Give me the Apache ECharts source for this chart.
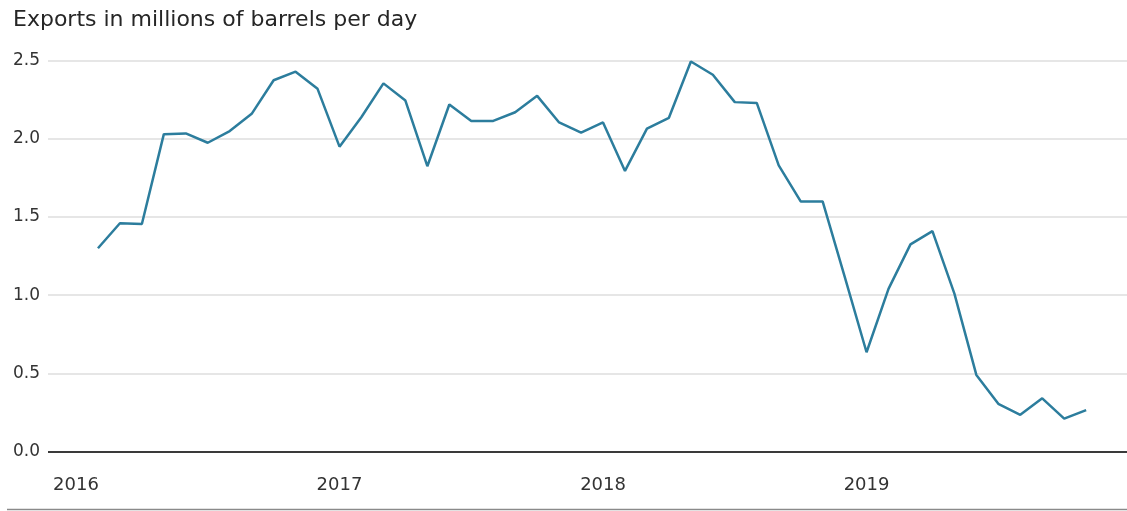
<!DOCTYPE html>
<html>
<head>
<meta charset="utf-8">
<script src="https://cdn.jsdelivr.net/npm/echarts@6/dist/echarts.min.js"></script>
<style>
  html, body { margin: 0; padding: 0; background: #fff; }
  #chart { width: 1127px; height: 511px; }
</style>
</head>
<body>
<div id="chart"></div>
<script>
const title = "Exports in millions of barrels per day";
const yearLabels = ["2016", "2017", "2018", "2019"];
const months = [
  "2016-02", "2016-03", "2016-04", "2016-05", "2016-06", "2016-07", "2016-08", "2016-09", "2016-10", "2016-11", "2016-12",
  "2017-01", "2017-02", "2017-03", "2017-04", "2017-05", "2017-06", "2017-07", "2017-08", "2017-09", "2017-10", "2017-11", "2017-12",
  "2018-01", "2018-02", "2018-03", "2018-04", "2018-05", "2018-06", "2018-07", "2018-08", "2018-09", "2018-10", "2018-11", "2018-12",
  "2019-01", "2019-02", "2019-03", "2019-04", "2019-05", "2019-06", "2019-07", "2019-08", "2019-09", "2019-10", "2019-11"
];
const exports = [
  1.30, 1.46, 1.455, 2.03, 2.035, 1.975, 2.05, 2.16, 2.375, 2.43, 2.32,
  1.95, 2.14, 2.355, 2.245, 1.825, 2.22, 2.115, 2.115, 2.17, 2.275, 2.105, 2.04,
  2.105, 1.795, 2.065, 2.135, 2.495, 2.41, 2.235, 2.23, 1.83, 1.60, 1.60, 1.12,
  0.635, 1.04, 1.325, 1.41, 1.01, 0.49, 0.305, 0.235, 0.34, 0.21, 0.265
];

// month index counted from Jan 2016
const monthIndex = (m) => {
  const [y, mo] = m.split("-").map(Number);
  return (y - 2016) * 12 + (mo - 1);
};
const points = months.map((m, i) => [monthIndex(m), exports[i]]);
const yearTicks = yearLabels.map((y) => monthIndex(`${y}-01`));

const chart = echarts.init(document.getElementById("chart"), null, { renderer: "canvas" });

chart.setOption({
  animation: false,
  backgroundColor: "#ffffff",
  textStyle: { fontFamily: "DejaVu Sans" },
  title: {
    text: title,
    left: 8,
    top: 4,
    textStyle: { color: "#262626", fontSize: 22, fontWeight: "normal", fontFamily: "DejaVu Sans" },
  },
  grid: { left: 48, right: 0, top: 60.7, bottom: 59.5 },
  xAxis: {
    type: "value",
    min: -1.275,
    max: 47.86,
    axisLine: { show: false },
    axisTick: { show: false },
    splitLine: { show: false },
    axisLabel: {
      customValues: yearTicks,
      color: "#333",
      fontSize: 18,
      margin: 25,
      formatter: (v) => String(2016 + Math.round(v / 12)),
    },
  },
  yAxis: {
    type: "value",
    min: 0,
    max: 2.5,
    interval: 0.5,
    axisLine: { show: false },
    axisTick: { show: false },
    axisLabel: {
      color: "#333",
      fontSize: 17,
      align: "left",
      margin: 35,
      formatter: (v) => v.toFixed(1),
    },
    splitLine: { lineStyle: { width: 1.5, color: "#dedede" } },
  },
  series: [
    {
      type: "line",
      data: points,
      symbol: "none",
      lineStyle: { width: 2.5, color: "#2c7d9d" },
      markLine: {
        silent: true,
        symbol: "none",
        label: { show: false },
        lineStyle: { color: "#3a3a3a", width: 2, type: "solid" },
        data: [{ yAxis: 0 }],
      },
    },
  ],
  graphic: [
    {
      type: "line",
      shape: { x1: 7, y1: 509.5, x2: 1127, y2: 509.5 },
      style: { stroke: "#8a8a8a", lineWidth: 1.5 },
    },
  ],
});
</script>
</body>
</html>
